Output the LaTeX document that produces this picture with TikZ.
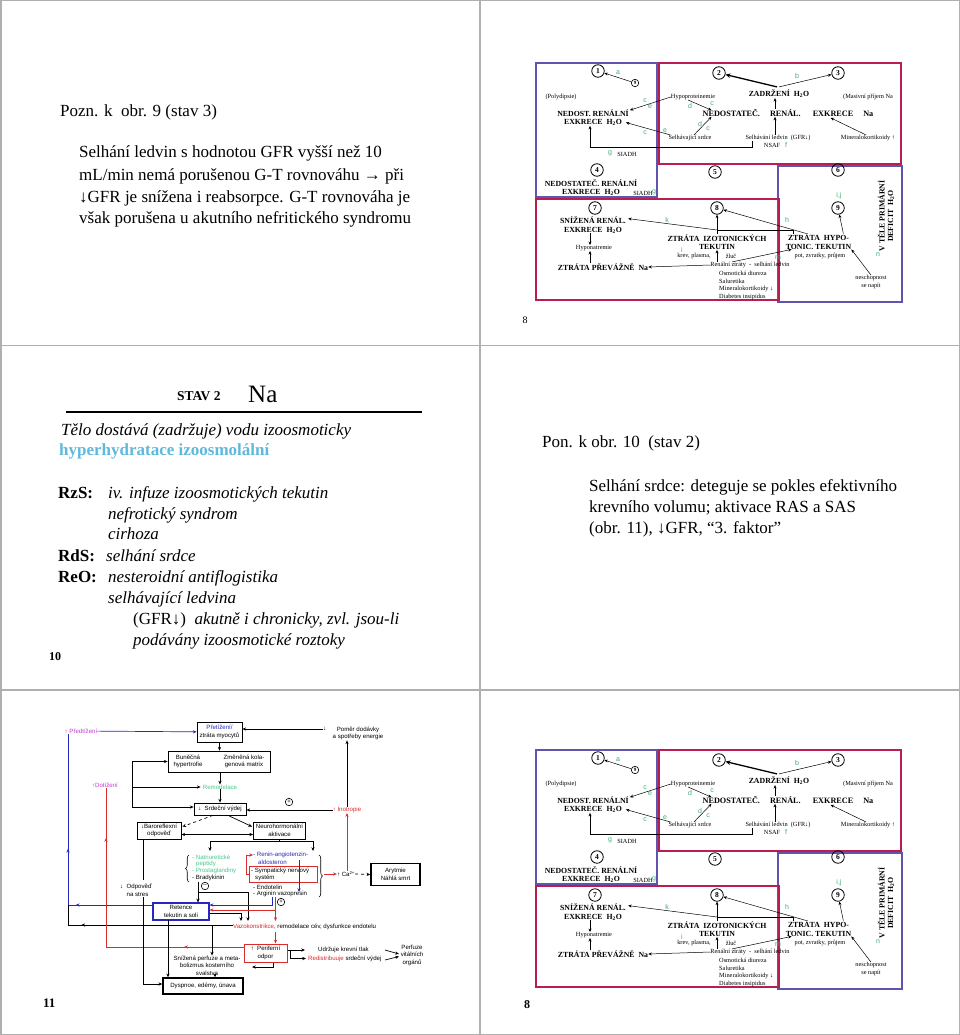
\documentclass[tikz,border=0pt]{standalone}
\usepackage{fontspec}
\setmainfont{Liberation Serif}
\newfontfamily\arialf{Liberation Sans}
\usetikzlibrary{arrows.meta,decorations.pathreplacing,decorations.markings,calc}
\definecolor{gridgray}{RGB}{175,175,175}
\definecolor{rbred}{RGB}{185,30,80}
\definecolor{rbblue}{RGB}{95,85,175}
\definecolor{lgreen}{RGB}{60,175,110}
\definecolor{fmag}{RGB}{195,60,210}
\definecolor{fblue}{RGB}{40,40,190}
\definecolor{fred}{RGB}{215,45,45}
\definecolor{fgreen}{RGB}{70,200,140}
\definecolor{hblue}{RGB}{95,185,220}
\tikzset{
  slide/.style={font=\fontsize{17}{20}\selectfont, inner sep=0pt, anchor=base west},
  rbig/.style={font=\bfseries\fontsize{7.8}{8.6}\selectfont, inner sep=0pt, align=center},
  rsm/.style={font=\fontsize{6.3}{7.6}\selectfont, inner sep=0pt, align=center},
  rlab/.style={font=\arialf\fontsize{7}{8}\selectfont, text=lgreen, inner sep=0pt},
  rcirc/.style={circle, draw, line width=0.8pt, minimum size=12.5pt, inner sep=0pt, font=\bfseries\fontsize{7.5}{8}\selectfont},
  rarr/.style={-{Stealth[length=3.5pt,width=3pt]}, line width=0.5pt},
  rbox/.style={line width=1.6pt},
  ft/.style={font=\arialf\fontsize{6.1}{7.5}\selectfont, inner sep=0pt, align=center},
  fbox/.style={ft, draw, line width=0.75pt},
  tbox/.style={ft, draw, line width=1.4pt},
  fline/.style={line width=0.7pt},
  farr/.style={fline, -{Stealth[length=3.8pt,width=3.2pt]}},
  marr/.style={postaction={decorate,decoration={markings,mark=at position #1 with {\arrow{Stealth[length=3.8pt,width=3.2pt]}}}}},
  fcirc/.style={circle, draw, line width=0.6pt, minimum size=7.5pt, inner sep=0pt, font=\arialf\fontsize{6}{6}\selectfont},
}
\newcommand{\renaldiagram}{%
  \draw[rbox, rbblue] (536,63) rectangle (657,197);
  \draw[rbox, rbred] (659,63) rectangle (901,164);
  \draw[rbox, rbblue] (778,166) rectangle (902,302);
  \draw[rbox, rbred] (536,199) rectangle (779,300);
  \node[rcirc] (c1) at (598,71) {1};
  \node[rcirc, minimum size=7.5pt, line width=0.6pt, font=\bfseries\fontsize{5}{5}\selectfont] (c9s) at (635,83) {9};
  \node[rcirc] (c2) at (719,73) {2};
  \node[rcirc] (c3) at (838,73) {3};
  \node[rcirc] (c4) at (597,170) {4};
  \node[rcirc] (c5) at (715,172) {5};
  \node[rcirc] (c6) at (838,170) {6};
  \node[rcirc] (c7) at (595,208) {7};
  \node[rcirc] (c8) at (717,208) {8};
  \node[rcirc] (c9) at (838,208) {9};
  \node[rsm] (poly) at (561,97) {(Polydipsie)};
  \node[rsm] (hypo) at (693,97) {Hypoproteinemie};
  \node[rbig] (zadr) at (779,94) {ZADRŽENÍ \ H\textsubscript{2}O};
  \node[rsm] (masiv) at (868,97) {(Masivní příjem Na};
  \node[rbig] (nedost) at (593,117.5) {NEDOST. RENÁLNÍ\\EXKRECE \ H\textsubscript{2}O};
  \node[rbig, font=\bfseries\fontsize{8.2}{9}\selectfont] (nedostNa) at (788,113) {NEDOSTATEČ.\hspace{10pt}RENÁL.\hspace{12pt}EXKRECE\hspace{10pt}Na};
  \node[rsm] (selsrd) at (690,138) {Selhávající srdce};
  \node[rsm] (selled) at (778,138) {Selhávání ledvin \ (GFR↓)};
  \node[rsm] (nsaf) at (772,145.5) {NSAF};
  \node[rlab] (lf) at (786,145) {f};
  \node[rsm] (miner) at (868,138) {Mineralokortikoidy ↑};
  \node[rlab] (lg1) at (610,153) {g};
  \node[rsm] (siadh1) at (627,154) {SIADH};
  \node[rbig] (nedost4) at (591,187.5) {NEDOSTATEČ. RENÁLNÍ\\EXKRECE \ H\textsubscript{2}O};
  \node[rsm] (siadh2) at (643,193) {SIADH};
  \node[rlab] (lg2) at (654,192) {g};
  \node[rbig, rotate=90] (vtele) at (886,216) {V TĚLE PRIMÁRNÍ\\DEFICIT \ H\textsubscript{2}O};
  \node[rlab] (lij) at (839,196) {i,j};
  \node[rbig] (sniz7) at (593,225) {SNÍŽENÁ RENÁL.\\EXKRECE \ H\textsubscript{2}O};
  \node[rlab] (lk) at (667,220) {k};
  \node[rlab] (lh) at (787,220) {h};
  \node[rbig] (izot) at (717,242) {ZTRÁTA \ IZOTONICKÝCH\\TEKUTIN};
  \node[rbig] (hypot) at (818.5,241.5) {ZTRÁTA \ HYPO-\\TONIC. TEKUTIN};
  \node[rsm] (hyponat) at (594,248) {Hyponatremie};
  \node[rlab] (li) at (682,250) {i};
  \node[rsm] (krev) at (694,256) {krev, plasma,};
  \node[rsm] (zluc) at (731,256) {žluč};
  \node[rsm] (pot) at (820,256) {pot, zvratky, průjem};
  \node[rlab] (ln) at (878,255) {n};
  \node[rlab] (lm) at (778,258) {m};
  \node[rbig] (prevaz) at (603,267) {ZTRÁTA PŘEVÁŽNĚ \ Na};
  \node[rsm] (renzt) at (750,265) {Renální ztráty \ - \ selhání ledvin};
  \node[rsm, anchor=west] (osmo) at (719,273) {Osmotická diureza};
  \node[rsm, anchor=west] (salu) at (719,281) {Saluretika};
  \node[rsm, anchor=west] (minr) at (719,289) {Mineralokortikoidy ↓};
  \node[rsm, anchor=west] (diab) at (719,296.5) {Diabetes insipidus};
  \node[rsm] (nesch) at (871,282) {neschopnost\\se napít};
  % arrows
  \draw[rarr] (c9s) -- (c1);
  \node[rlab] (la) at (618,73) {a};
  \draw[-{Stealth[length=5pt,width=4.5pt]}, line width=1.3pt] ($(zadr.north)+(-2,-3)$) -- (c2);
  \draw[rarr] ($(zadr.north)+(0,-3)$) -- (c3);
  \node[rlab] (lb) at (797,76) {b};
  \draw[rarr] (hypo.west) -- ($(nedost.north east)+(1,1)$);
  \node[rlab] (lc1) at (645,101) {c};
  \node[rlab] (le1) at (650,107) {e};
  \draw[rarr] ($(hypo.south)+(-5,0)$) -- ($(nedostNa.north west)+(9,1)$);
  \node[rlab] (ld1) at (690,106) {d};
  \node[rlab] (lc2) at (712,104) {c};
  \draw[rarr] ($(selsrd.north west)+(2,0)$) -- ($(nedost.east)+(-3,5)$);
  \node[rlab] (le2) at (665,131) {e};
  \node[rlab] (lc3) at (645,133) {c};
  \draw[rarr] ($(selsrd.north)+(4,0)$) -- ($(nedostNa.south west)+(9,0)$);
  \node[rlab] (ld2) at (700,124) {d};
  \node[rlab] (lc4) at (708,129) {c};
  \draw[rarr] ($(nedostNa.north)+(-13,0)$) -- ($(zadr.south)+(-4,0)$);
  \draw[rarr] ($(selled.north)+(-3,0)$) -- ($(nedostNa.south)+(-13,0)$);
  \draw[rarr] ($(miner.north)+(-2,0)$) -- ($(nedostNa.south east)+(-43,1)$);
  \coordinate (gA) at (752,147);
  \coordinate (gB) at (590,147);
  \draw[rarr] (gA |- selled.south) -- (gA) -- (gB) -- (gB |- nedost.south);
  \draw[rarr] ($(hypot.north east)+(-8,0)$) -- (c9);
  \draw[rarr] ($(hypot.north)+(-12,0)$) -- (c8);
  \draw[rarr] (izot.north -| c8) -- (c8);
  \coordinate (kA) at (793,230);
  \coordinate (kB) at (717,230);
  \draw[line width=0.5pt] (kA |- hypot.north) -- (kA) -- (kB);
  \draw[rarr] (kB) -- ($(sniz7.north east)+(2,2)$);
  \coordinate (hA) at (590,248);
  \draw[rarr] (hA |- sniz7.south) -- (hA |- hyponat.north);
  \draw[rarr] (hA |- prevaz.north) -- (hA |- hyponat.south);
  \draw[rarr] (renzt.west) -- (prevaz.east);
  \draw[rarr] ($(renzt.north)+(-18,0)$) -- ($(hypot.south west)+(6,0)$);
  \draw[rarr] (renzt.north -| izot) -- (izot.south);
  \draw[rarr] (nesch.north) -- (hypot.south east);
}
\begin{document}
\begin{tikzpicture}[x=1pt,y=-1pt]
\useasboundingbox (0,0) rectangle (960,1035);
\fill[white] (0,0) rectangle (960,1035);
\draw[gridgray, line width=1.5pt] (0.75,0.75) rectangle (959.25,1034.25);
\draw[gridgray, line width=1.5pt] (480,0) -- (480,1035);
\draw[gridgray, line width=1.5pt] (0,345.5) -- (960,345.5);
\draw[gridgray, line width=1.5pt] (0,690) -- (960,690);
% ---------- slide top left
\node[slide] (t1) at (60,117) {Pozn. k \ obr. 9 (stav 3)};
\node[slide] (t2) at (79,158) {Selhání ledvin s hodnotou GFR vyšší než 10};
\node[slide] (t3) at (79,180) {mL/min nemá porušenou G-T rovnováhu → při};
\node[slide] (t4) at (79,202) {↓GFR je snížena i reabsorpce. G-T rovnováha je};
\node[slide] (t5) at (79,223) {však porušena u akutního nefritického syndromu};
% ---------- slide top right
\begin{scope}[name prefix=top-]
\renaldiagram
\end{scope}
\node[font=\fontsize{10}{12}\selectfont, inner sep=0pt] (pg8a) at (525,320) {8};
% ---------- slide bottom left
\node[font=\bfseries\fontsize{13.5}{15}\selectfont, inner sep=0pt, anchor=base west] (stav) at (177,400) {STAV 2};
\node[font=\fontsize{25}{28}\selectfont, inner sep=0pt, anchor=base west] (na) at (248,402) {Na};
\draw[line width=1.2pt] (66,412) -- (422,412);
\node[slide] (b1) at (61,435) {\itshape Tělo dostává (zadržuje) vodu izoosmoticky};
\node[slide, text=hblue] (b2) at (59,455) {\bfseries hyperhydratace izoosmolální};
\node[slide] (b3a) at (58,498) {\bfseries RzS:};
\node[slide] (b3) at (108,498) {\itshape iv. infuze izoosmotických tekutin};
\node[slide] (b4) at (108,519) {\itshape nefrotický syndrom};
\node[slide] (b5) at (108,539) {\itshape cirhoza};
\node[slide] (b6a) at (58,561) {\bfseries RdS:};
\node[slide] (b6) at (106,561) {\itshape selhání srdce};
\node[slide] (b7a) at (58,582) {\bfseries ReO:};
\node[slide] (b7) at (108,582) {\itshape nesteroidní antiflogistika};
\node[slide] (b8) at (108,603) {\itshape selhávající ledvina};
\node[slide] (b9) at (133,624) {(GFR↓) \ \textit{akutně i chronicky, zvl. jsou-li}};
\node[slide] (b10) at (133,645) {\itshape podávány izoosmotické roztoky};
\node[font=\bfseries\fontsize{12}{14}\selectfont, inner sep=0pt, anchor=west] (pg10) at (49,657) {10};
% ---------- slide middle right
\node[slide] (m1) at (542,447) {Pon. k obr. 10 \ (stav 2)};
\node[slide] (m2) at (589,491) {Selhání srdce: deteguje se pokles efektivního};
\node[slide] (m3) at (589,512) {krevního volumu; aktivace RAS a SAS};
\node[slide] (m4) at (589,533) {(obr. 11), ↓GFR, “3. faktor”};
% ---------- slide bottom left: flowchart
\node[ft, text=fmag] (pred) at (81,731) {↑ Předtížení};
\node[fbox, minimum width=45pt, minimum height=20pt] (pret) at (219.5,732) {\textcolor{fblue}{Přetížení/}\\ztráta myocytů};
\node[ft] (pomarr) at (325,729) {↓};
\node[ft] (pomer) at (358,733.5) {Poměr dodávky\\a spotřeby energie};
\node[fbox, minimum width=102pt, minimum height=21pt] (bun) at (219,761.5) {};
\node[ft] (bun1) at (188,761.5) {Buněčná\\hypertrofie};
\node[ft] (bun2) at (244,761.5) {Změněná kola-\\genová matrix};
\node[ft, text=fgreen] (remod) at (220,787) {Remodelace};
\node[ft, text=fmag] (dot) at (105,785) {↑Dotížení};
\node[fbox, minimum width=52pt, minimum height=12pt] (srd) at (220,809) {↓ \ Srdeční výdej};
\node[fcirc] (plus1) at (289,802) {+};
\node[ft, text=fred] (ino) at (347,810) {↑ Inotropie};
\node[fbox, minimum width=44pt, minimum height=17pt] (baro) at (159,830.5) {↓Baroreflexní\\odpověď};
\node[fbox, minimum width=52pt, minimum height=17pt] (neuro) at (279.5,830.5) {Neurohormonální\\aktivace};
\draw[line width=0.6pt, decorate, decoration={brace, amplitude=3.5pt}] (189,882) -- (189,855);
\draw[line width=0.6pt, decorate, decoration={brace, amplitude=3.5pt}] (319,855) -- (319,897);
\node[ft, anchor=west, text=fgreen] (natri1) at (192,857) {- Natriuretické};
\node[ft, anchor=west, text=fgreen] (natri2) at (196,864) {peptidy};
\node[ft, anchor=west, text=fgreen] (prost) at (192,871) {- Prostaglandiny};
\node[ft, anchor=west] (brady) at (192,878) {- Bradykinin};
\node[fcirc] (minus) at (205,886) {–};
\node[ft, anchor=west, text=fblue] (renin1) at (253,855) {- Renin-angiotenzin-};
\node[ft, anchor=west, text=fblue] (renin2) at (258,862) {aldosteron};
\node[draw=fred, line width=1pt, minimum width=68pt, minimum height=16pt, inner sep=0pt] (symp) at (283,874) {};
\node[ft, anchor=west] (symp1) at (251,870.5) {- Sympatický nervový};
\node[ft, anchor=west] (symp2) at (255,877.5) {systém};
\node[ft, anchor=west] (endo) at (253,887) {- Endotelin};
\node[ft, anchor=west] (argi) at (253,894) {- Arginin vazopresin};
\node[ft] (ca) at (346,874) {↑ Ca\textsuperscript{2+}};
\node[tbox, minimum width=49pt, minimum height=22pt] (aryt) at (395.5,874.5) {Arytmie\\Náhlá smrt};
\node[ft, align=left] (odp) at (136,890.5) {↓ \ Odpověď\\\hphantom{↓ \ }na stres};
\node[fcirc] (plus2) at (281,902) {+};
\node[fbox, draw=fblue, line width=1.1pt, minimum width=56pt, minimum height=17pt] (ret) at (181,911.5) {Retence\\tekutin a soli};
\node[ft, anchor=west] (vazo) at (233,927) {\textcolor{fred}{Vazokonstrikce}, remodelace cév, dysfunkce endotelu};
\node[fbox, draw=fred, line width=1pt, minimum width=43pt, minimum height=18pt] (peri) at (265.5,953) {↑ \ Periferní\\odpor};
\node[ft, anchor=west] (udr) at (318,950) {Udržuje krevní tlak};
\node[ft, anchor=west] (redis) at (308,958.5) {\textcolor{fred}{Redistribuuje} srdeční výdej};
\node[ft] (perf) at (412,955) {Perfuze\\vitálních\\orgánů};
\node[ft] (sniz) at (207,965.5) {Snížená perfuze a meta-\\bolizmus kosterního\\svalstva};
\node[tbox, minimum width=80pt, minimum height=16pt] (dysp) at (203,986) {Dyspnoe, edémy, únava};
% connectors
\draw[farr, fblue] (pred) -- (pret);
\coordinate (bA) at (68,905);
\draw[fline, fblue, marr=0.3, marr=0.55] (ret.west |- bA) -- (bA) -- (bA |- pred.south);
\coordinate (kA) at (68,925);
\draw[fline, marr=0.82] (vazo.west |- kA) -- (kA) -- (bA);
\coordinate (rA) at (106,947);
\draw[fline, fred, marr=0.2, marr=0.83] (peri.west |- rA) -- (rA) -- (rA |- dot.south);
\coordinate (lb1) at (132,761.5);
\coordinate (lb2) at (132,787);
\coordinate (lb3) at (132,807);
\draw[fline] (lb1) -- (lb3);
\draw[farr] (lb1) -- (bun.west);
\draw[farr] (lb2) -- ($(remod.west)+(-2,0)$);
\draw[farr] (lb3) -- (lb3 -| srd.west);
\draw[farr] (pret.south) -- (pret.south |- bun.north);
\draw[farr] (bun.south -| remod) -- (remod.north);
\draw[farr] (remod.south) -- (remod.south |- srd.north);
\draw[farr] (ino.west) -- (ino.west -| srd.east);
\draw[farr] (ino.north) -- (ino.north |- pomer.south);
\draw[farr] (pomarr.west) -- (pomarr.west -| pret.east);
\draw[farr, fred] (ca.north -| ino) -- (ino.south);
\coordinate (rbt) at (324,874);
\draw[farr, fred] (rbt) -- (ca.west);
\draw[farr, dashed] (ca.east) -- (aryt.west);
\draw[farr, dashed] ($(srd.south)+(-7,0)$) -- ($(baro.north east)+(1,5)$);
\draw[farr] ($(srd.south)+(8,0)$) -- ($(neuro.north west)+(-1,5)$);
\draw[fline, {Stealth[length=3.8pt,width=3.2pt]}-{Stealth[length=3.8pt,width=3.2pt]}] ($(baro.east)+(0,4)$) -- ($(neuro.west)+(0,4)$);
\coordinate (nL) at (210,841);
\coordinate (nR) at (313,841);
\coordinate (nL2) at (210,851);
\coordinate (nR2) at (313,851);
\draw[fline] (neuro.south) -- (neuro.south |- nL);
\draw[fline] (nL) -- (nR);
\draw[farr] (nL) -- (nL2);
\draw[farr] (nR) -- (nR2);
\coordinate (oA) at (143,880);
\coordinate (oB) at (143,897);
\coordinate (oC) at (143,984);
\draw[fline] (baro.south -| oA) -- (oA);
\draw[farr] (oB) -- (oC) -- (oC -| dysp.west);
\coordinate (bk1) at (198,881.5);
\coordinate (bk2) at (198,892);
\coordinate (bk3) at (248,892);
\coordinate (bk4) at (248,921);
\draw[farr] (bk1) -- (bk1 |- ret.north);
\draw[fline] (bk2) -- (bk3);
\draw[farr] (bk3) -- (bk4);
\coordinate (ab1) at (272,897);
\coordinate (ab2) at (272,905);
\draw[farr, fblue] (ab1) -- (ab2) -- (ab2 -| ret.east);
\coordinate (ar1) at (275.5,897);
\coordinate (ar2) at (275.5,910);
\coordinate (ar3) at (275.5,921);
\coordinate (ar4) at (275.5,932);
\draw[farr, fred] (ar2) -- (ar2 -| ret.east);
\draw[farr, fred] (ar1) -- (ar3);
\draw[farr, fred] (ar4) -- (ar4 |- peri.north);
\coordinate (sb1) at (246,874);
\coordinate (sb2) at (246,855);
\draw[farr, fred] (symp.west) -- (sb1) -- (sb2) -- (renin1.west);
\coordinate (rb1) at (299,860);
\coordinate (rb2) at (299,892);
\draw[farr, fblue] (rb1) -- (rb2);
\coordinate (re1) at (241,913);
\coordinate (re2) at (241,921);
\draw[farr] (re1 -| ret.east) -- (re1) -- (re2);
\coordinate (rs1) at (168,920);
\draw[farr] (rs1) -- (rs1 |- dysp.north);
\coordinate (vz1) at (212,925);
\draw[farr] (vz1) -- (vz1 |- sniz.north);
\coordinate (pz1) at (273,967);
\coordinate (pz2) at (252,967);
\draw[farr] (peri.south -| pz1) -- (pz1) -- (pz2);
\coordinate (sv1) at (215,974);
\draw[farr] (sv1) -- (sv1 |- dysp.north);
\coordinate (ud1) at (305,950);
\draw[farr] (peri.east |- ud1) -- (ud1);
\coordinate (pr1) at (290,950);
\coordinate (pr2) at (290,958.5);
\coordinate (pr3) at (306,958.5);
\draw[farr] (pr1) -- (pr2) -- (pr3);
\coordinate (pf1) at (385,950);
\coordinate (pf2) at (399,954);
\coordinate (pf3) at (385,960);
\coordinate (pf4) at (399,956.5);
\draw[farr] (pf1) -- (pf2);
\draw[farr] (pf3) -- (pf4);
\node[font=\bfseries\fontsize{13}{15}\selectfont, inner sep=0pt, anchor=west] (pg11) at (43,1003) {11};
% ---------- slide bottom right
\begin{scope}[shift={(0,687)}, name prefix=bot-]
\renaldiagram
\end{scope}
\node[font=\bfseries\fontsize{12}{14}\selectfont, inner sep=0pt] (pg8b) at (527,1005) {8};
\end{tikzpicture}
\end{document}
